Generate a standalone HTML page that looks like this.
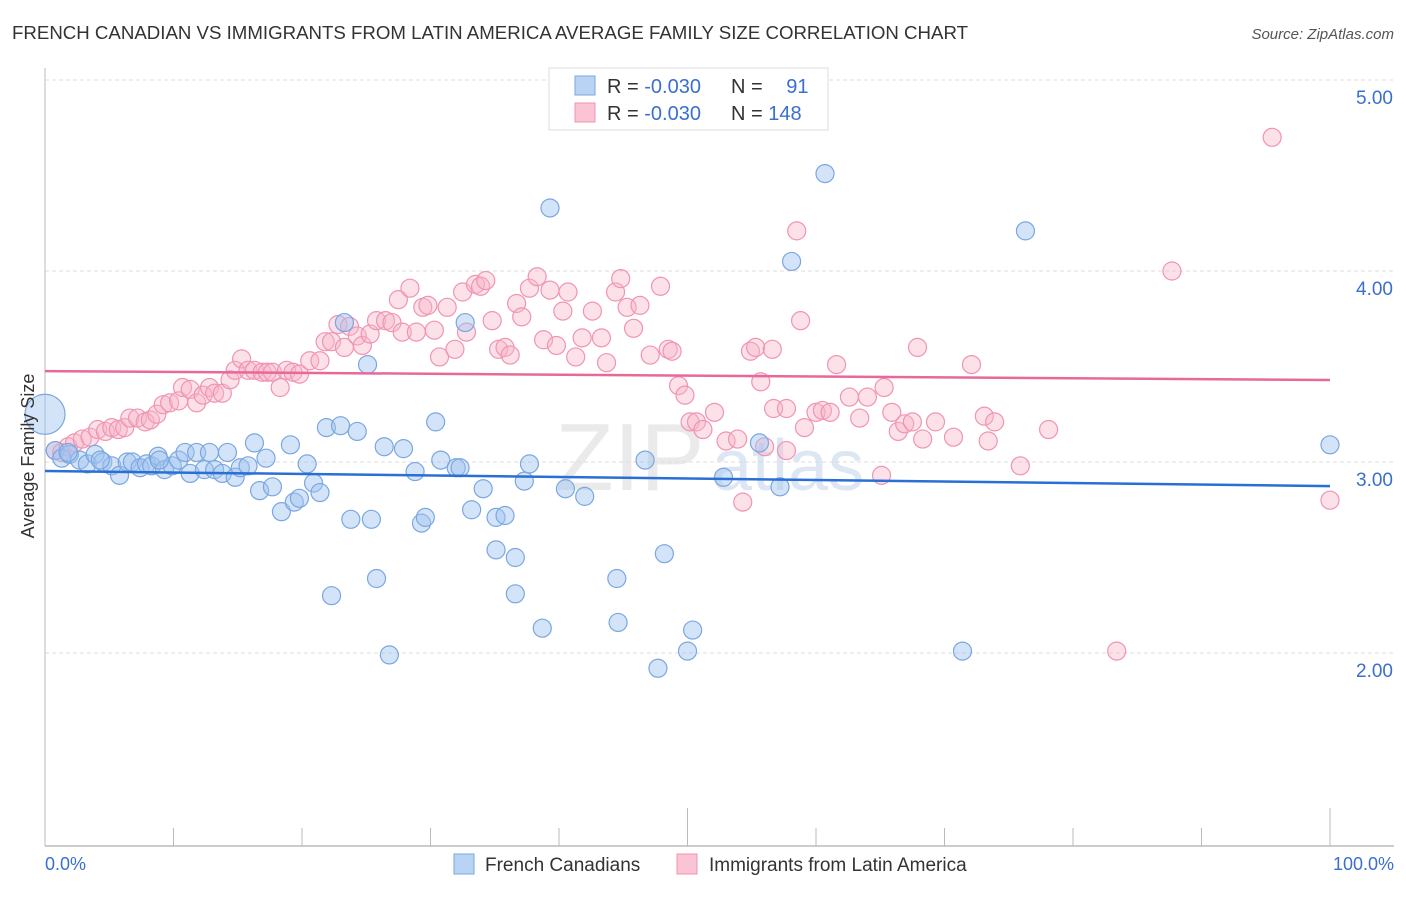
<!DOCTYPE html>
<html><head><meta charset="utf-8"><style>
body{margin:0;background:#fff;font-family:"Liberation Sans",sans-serif;}
svg text{font-family:"Liberation Sans",sans-serif;}
</style></head><body>
<svg id="chart" width="1406" height="892" xmlns="http://www.w3.org/2000/svg">
<text x="12" y="39" font-size="18.5" fill="#333" textLength="956" lengthAdjust="spacingAndGlyphs">FRENCH CANADIAN VS IMMIGRANTS FROM LATIN AMERICA AVERAGE FAMILY SIZE CORRELATION CHART</text>
<text x="1394" y="39" font-size="15" fill="#555" text-anchor="end" font-style="italic">Source: ZipAtlas.com</text>
<g id="grid"></g>
<text x="555" y="490" font-size="96" fill="#ddd" font-family="Liberation Serif" opacity="0.6">ZIP</text>
<text x="712" y="490" font-size="72" fill="#c8d8ee" opacity="0.6">atlas</text>
<g id="points"></g>
<g id="trends"></g>
<text transform="translate(34,456) rotate(-90)" font-size="18" fill="#333" text-anchor="middle">Average Family Size</text>
<g>
<rect x="549" y="68" width="279" height="62" fill="#fff" stroke="#ddd"/>
<rect x="575" y="76" width="20" height="19" fill="#b9d3f5" stroke="#7aa7e0"/>
<rect x="575" y="103" width="20" height="19" fill="#fac4d4" stroke="#f094b2"/>
<text x="607" y="93" font-size="20" fill="#333">R = <tspan fill="#3a6fd0">-0.030</tspan></text>
<text x="731" y="93" font-size="20" fill="#333">N = <tspan fill="#3a6fd0" dx="18">91</tspan></text>
<text x="607" y="120" font-size="20" fill="#333">R = <tspan fill="#3a6fd0">-0.030</tspan></text>
<text x="731" y="120" font-size="20" fill="#333">N = <tspan fill="#3a6fd0">148</tspan></text>
</g>
<text x="45" y="870" font-size="18" fill="#3a6fd0">0.0%</text>
<text x="1394" y="870" font-size="18" fill="#3a6fd0" text-anchor="end">100.0%</text>
<g>
<rect x="454" y="854" width="20" height="20" fill="#b9d3f5" stroke="#7aa7e0"/>
<text x="485" y="871" font-size="19" fill="#333">French Canadians</text>
<rect x="677" y="854" width="20" height="20" fill="#fac4d4" stroke="#f094b2"/>
<text x="709" y="871" font-size="19" fill="#333">Immigrants from Latin America</text>
</g>
</svg>
<script>
const yTicks=[2,3,4,5];
const yTickLabels=["2.00","3.00","4.00","5.00"];
const xTicks=[0,10,20,30,40,50,60,70,80,90,100];
const blueX=[0.8,1.3,1.9,2.7,3.3,3.9,4.5,5.2,5.8,6.4,6.8,7.4,7.9,8.3,8.8,9.3,9.9,10.4,10.9,11.3,11.8,12.4,12.8,13.2,13.8,14.2,14.8,15.2,15.8,16.3,16.7,17.2,17.7,18.4,19.1,19.4,19.8,20.4,20.9,21.4,21.9,23.0,23.3,23.8,24.3,25.1,25.4,25.8,26.4,26.8,27.9,28.8,29.3,29.6,30.4,30.8,32.0,32.3,32.7,33.2,34.1,35.1,35.1,35.8,36.6,36.6,37.3,37.7,38.7,39.3,40.5,42.0,44.5,44.6,46.7,47.7,48.2,50.0,50.4,52.8,55.6,57.2,58.1,60.7,71.4,76.3,100,22.3,8.9,4.3,1.8];
const blueY=[3.06,3.02,3.04,3.01,2.99,3.04,3.00,2.98,2.93,3.00,3.00,2.97,2.99,2.98,3.03,2.96,2.98,3.01,3.05,2.94,3.05,2.96,3.05,2.96,2.94,3.05,2.92,2.97,2.98,3.10,2.85,3.02,2.87,2.74,3.09,2.79,2.81,2.99,2.89,2.84,3.18,3.19,3.73,2.70,3.16,3.51,2.70,2.39,3.08,1.99,3.07,2.95,2.68,2.71,3.21,3.01,2.97,2.97,3.73,2.75,2.86,2.54,2.71,2.72,2.50,2.31,2.90,2.99,2.13,4.33,2.86,2.82,2.39,2.16,3.01,1.92,2.52,2.01,2.12,2.92,3.10,2.87,4.05,4.51,2.01,4.21,3.09,2.30,3.01,3.01,3.05];
const pinkX=[0.8,1.3,1.8,2.3,2.9,3.5,4.1,4.7,5.2,5.7,6.2,6.6,7.2,7.8,8.2,8.7,9.2,9.7,10.4,10.7,11.3,11.8,12.3,12.8,13.2,13.8,14.4,14.8,15.3,15.8,16.3,16.9,17.3,17.7,18.3,18.8,19.3,19.8,20.6,21.4,21.8,22.3,22.8,23.3,23.7,24.3,24.7,25.3,25.8,26.5,27.0,27.5,27.8,28.4,28.9,29.4,29.8,30.3,30.7,31.3,31.9,32.5,32.8,33.5,33.9,34.3,34.8,35.3,35.8,36.2,36.7,37.1,37.7,38.3,38.8,39.3,39.8,40.3,40.7,41.3,41.8,42.6,43.3,43.7,44.4,44.8,45.3,45.8,46.3,47.1,47.9,48.5,48.8,49.3,49.8,50.2,50.7,51.2,52.1,53.0,53.9,54.3,54.9,55.3,56.0,56.6,56.7,57.7,57.7,58.5,58.8,59.1,60.0,60.5,61.1,61.6,62.6,63.4,64.0,65.3,65.9,66.4,66.9,67.5,67.9,68.3,69.3,70.7,72.1,73.1,73.4,73.9,75.9,78.1,83.4,87.7,95.5,100,65.1,55.7];
const pinkY=[3.06,3.05,3.08,3.10,3.12,3.13,3.17,3.16,3.18,3.17,3.18,3.23,3.23,3.21,3.22,3.25,3.30,3.31,3.32,3.39,3.38,3.31,3.35,3.39,3.36,3.36,3.43,3.48,3.54,3.48,3.48,3.47,3.47,3.47,3.39,3.48,3.47,3.46,3.53,3.53,3.63,3.63,3.72,3.60,3.71,3.66,3.61,3.67,3.74,3.74,3.73,3.85,3.68,3.91,3.68,3.81,3.82,3.69,3.55,3.81,3.59,3.89,3.68,3.93,3.92,3.95,3.74,3.59,3.60,3.56,3.83,3.76,3.91,3.97,3.64,3.90,3.61,3.79,3.89,3.55,3.65,3.79,3.65,3.52,3.89,3.96,3.81,3.70,3.82,3.56,3.92,3.59,3.58,3.40,3.35,3.21,3.21,3.17,3.26,3.11,3.12,2.79,3.58,3.60,3.08,3.59,3.28,3.06,3.28,4.21,3.74,3.18,3.26,3.27,3.26,3.51,3.34,3.23,3.34,3.39,3.26,3.16,3.20,3.21,3.60,3.12,3.21,3.13,3.51,3.24,3.11,3.21,2.98,3.17,2.01,4.00,4.70,2.80,2.93,3.42];
const blueTrend=[2.953,2.874];
const pinkTrend=[3.476,3.429];
const NS="http://www.w3.org/2000/svg";
const X0=45,X1=1330,YB=846;
const xs=v=>X0+(X1-X0)*v/100;
const ys=v=>462-(v-3)*191;
function mk(t,a){const e=document.createElementNS(NS,t);for(const k in a)e.setAttribute(k,a[k]);return e;}
const grid=document.getElementById('grid');
yTicks.forEach((t,i)=>{
  const l=mk('line',{x1:X0,x2:1394,y1:ys(t),y2:ys(t),stroke:'#ddd','stroke-dasharray':'4,3'});
  
  
  grid.appendChild(l);
  const tx=mk('text',{x:1393,y:ys(t)+24,'font-size':19,fill:'#3a6fd0','text-anchor':'end'});
  tx.textContent=yTickLabels[i];
  
  
  grid.appendChild(tx);
});
const ya=mk('line',{x1:X0,x2:X0,y1:68,y2:YB,stroke:'#bbb'});


grid.appendChild(ya);
const xa=mk('line',{x1:X0,x2:1394,y1:YB,y2:YB,stroke:'#bbb','stroke-width':1.5});


grid.appendChild(xa);
xTicks.forEach(t=>{
  const tall=(t===50||t===100);
  const l=mk('line',{x1:xs(t),x2:xs(t),y1:tall?808:828,y2:YB,stroke:'#bbb'});
  
  
  grid.appendChild(l);
});
const pts=document.getElementById('points');
const big=mk('circle',{cx:xs(0),cy:ys(3.25),r:20,fill:'rgba(160,195,240,0.45)',stroke:'#7aa7e0','stroke-width':1.2});


pts.appendChild(big);
function draw(X,Y,fill,stroke,name){
  X.forEach((x,i)=>{
    const c=mk('circle',{cx:xs(x),cy:ys(Y[i]),r:9,fill:fill,stroke:stroke,'stroke-width':1.2});
    
    
    pts.appendChild(c);
  });
}
draw(pinkX,pinkY,'rgba(248,180,200,0.4)','#f094b2','latin-america-point');
draw(blueX,blueY,'rgba(160,195,240,0.45)','#7aa7e0','french-canadian-point');
const tr=document.getElementById('trends');
const lb=mk('line',{x1:xs(0),x2:xs(100),y1:ys(blueTrend[0]),y2:ys(blueTrend[1]),stroke:'#2a6fd6','stroke-width':2.5});


tr.appendChild(lb);
const lp=mk('line',{x1:xs(0),x2:xs(100),y1:ys(pinkTrend[0]),y2:ys(pinkTrend[1]),stroke:'#e8689a','stroke-width':2.5});


tr.appendChild(lp);
</script>
</body></html>
